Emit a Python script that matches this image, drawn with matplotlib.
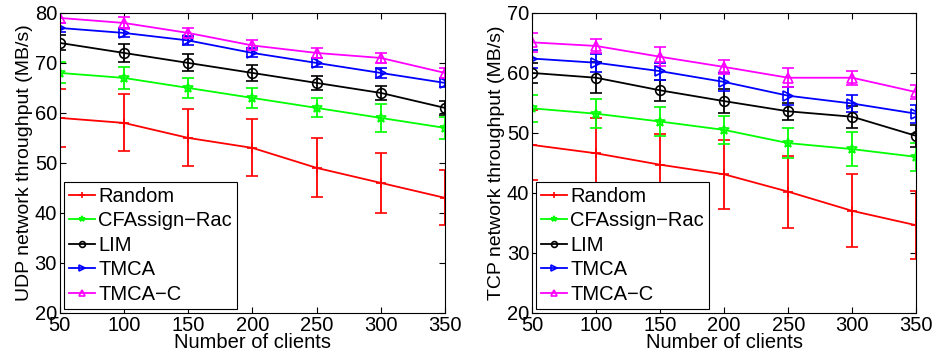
import matplotlib.pyplot as plt
import numpy as np

plt.rcParams['font.family'] = ['Liberation Sans', 'DejaVu Sans']

clients = [50, 100, 150, 200, 250, 300, 350]
names = ['Random', 'CFAssign\u2212Rac', 'LIM', 'TMCA', 'TMCA\u2212C']
colors = ['#ff0000', '#00ff00', '#000000', '#0000ff', '#ff00ff']
markers = ['+', '*', 'o', '>', '^']

# UDP throughput (MB/s)
udp_random = [59, 58, 55, 53, 49, 46, 43]
udp_cfassign = [68, 67, 65, 63, 61, 59, 57]
udp_lim = [74, 72, 70, 68, 66, 64, 61]
udp_tmca = [77, 76, 74.5, 72, 70, 68, 66]
udp_tmcac = [79, 78, 76, 73.5, 72, 71, 68]
udp_err_random = [5.8, 5.7, 5.7, 5.7, 5.9, 6.0, 5.5]
udp_err_cfassign = [2.1, 2.2, 2.0, 2.0, 1.9, 2.8, 2.2]
udp_err_lim = [1.5, 1.8, 1.7, 1.6, 1.4, 1.4, 1.4]
udp_err_tmca = [0.9, 0.9, 0.9, 0.9, 0.9, 1.0, 0.9]
udp_err_tmcac = [1.0, 1.2, 1.0, 1.0, 1.0, 1.0, 1.0]

# TCP throughput (MB/s)
tcp_random = [48, 46.6, 44.7, 43.1, 40.2, 37, 34.6]
tcp_cfassign = [54.1, 53.2, 51.9, 50.5, 48.3, 47.3, 46]
tcp_lim = [60, 59.2, 57.1, 55.3, 53.6, 52.7, 49.5]
tcp_tmca = [62.4, 61.7, 60.3, 58.5, 56.2, 54.9, 53.2]
tcp_tmcac = [65.1, 64.5, 62.7, 61, 59.2, 59.2, 56.8]
tcp_err_random = [5.9, 5.9, 5.2, 5.8, 6.0, 6.1, 5.7]
tcp_err_cfassign = [2.2, 2.4, 2.4, 2.4, 2.5, 2.9, 2.3]
tcp_err_lim = [1.7, 2.6, 1.8, 2.0, 1.4, 1.8, 1.8]
tcp_err_tmca = [1.5, 1.5, 1.4, 1.5, 1.5, 1.4, 1.5]
tcp_err_tmcac = [1.6, 1.2, 1.6, 1.2, 1.6, 1.2, 1.2]

udp = [udp_random, udp_cfassign, udp_lim, udp_tmca, udp_tmcac]
udp_err = [udp_err_random, udp_err_cfassign, udp_err_lim, udp_err_tmca, udp_err_tmcac]
tcp = [tcp_random, tcp_cfassign, tcp_lim, tcp_tmca, tcp_tmcac]
tcp_err = [tcp_err_random, tcp_err_cfassign, tcp_err_lim, tcp_err_tmca, tcp_err_tmcac]

fig = plt.figure(figsize=(9.35, 3.6), dpi=100)
ax1 = fig.add_axes([0.064, 0.131, 0.412, 0.833])
ax2 = fig.add_axes([0.569, 0.131, 0.411, 0.833])


def draw(ax, data, errs, ylim, ylabel):
    for vals, err, c, m, n in zip(data, errs, colors, markers, names):
        ax.errorbar(clients, vals, yerr=err, color=c, marker=m, markerfacecolor='none',
                    markeredgecolor=c, markersize=7, markeredgewidth=1.2, linewidth=1.3,
                    elinewidth=1.3, capsize=4, capthick=1.3, label=n)
    ax.set_xlim(50, 350)
    ax.set_ylim(*ylim)
    ax.set_xticks(clients)
    ax.set_yticks(np.arange(ylim[0], ylim[1] + 1, 10))
    ax.tick_params(direction='in', top=True, right=True, labelsize=14.5, length=4, pad=2)
    ax.set_xlabel('Number of clients', fontsize=14.5, labelpad=-1)
    ax.set_ylabel(ylabel, fontsize=14, labelpad=1)
    handles, labels = ax.get_legend_handles_labels()
    handles = [h[0] for h in handles]
    leg = ax.legend(handles, labels, loc='lower left', fontsize=14.5, fancybox=False,
                    edgecolor='black', framealpha=1, handlelength=1.3, handletextpad=0.15,
                    borderpad=0.25, labelspacing=0.27, borderaxespad=0.2, markerscale=0.6)
    leg.get_frame().set_linewidth(0.8)


draw(ax1, udp, udp_err, (20, 80), 'UDP network throughput (MB/s)')
draw(ax2, tcp, tcp_err, (20, 70), 'TCP network throughput (MB/s)')

plt.savefig('out.png', dpi=100)
